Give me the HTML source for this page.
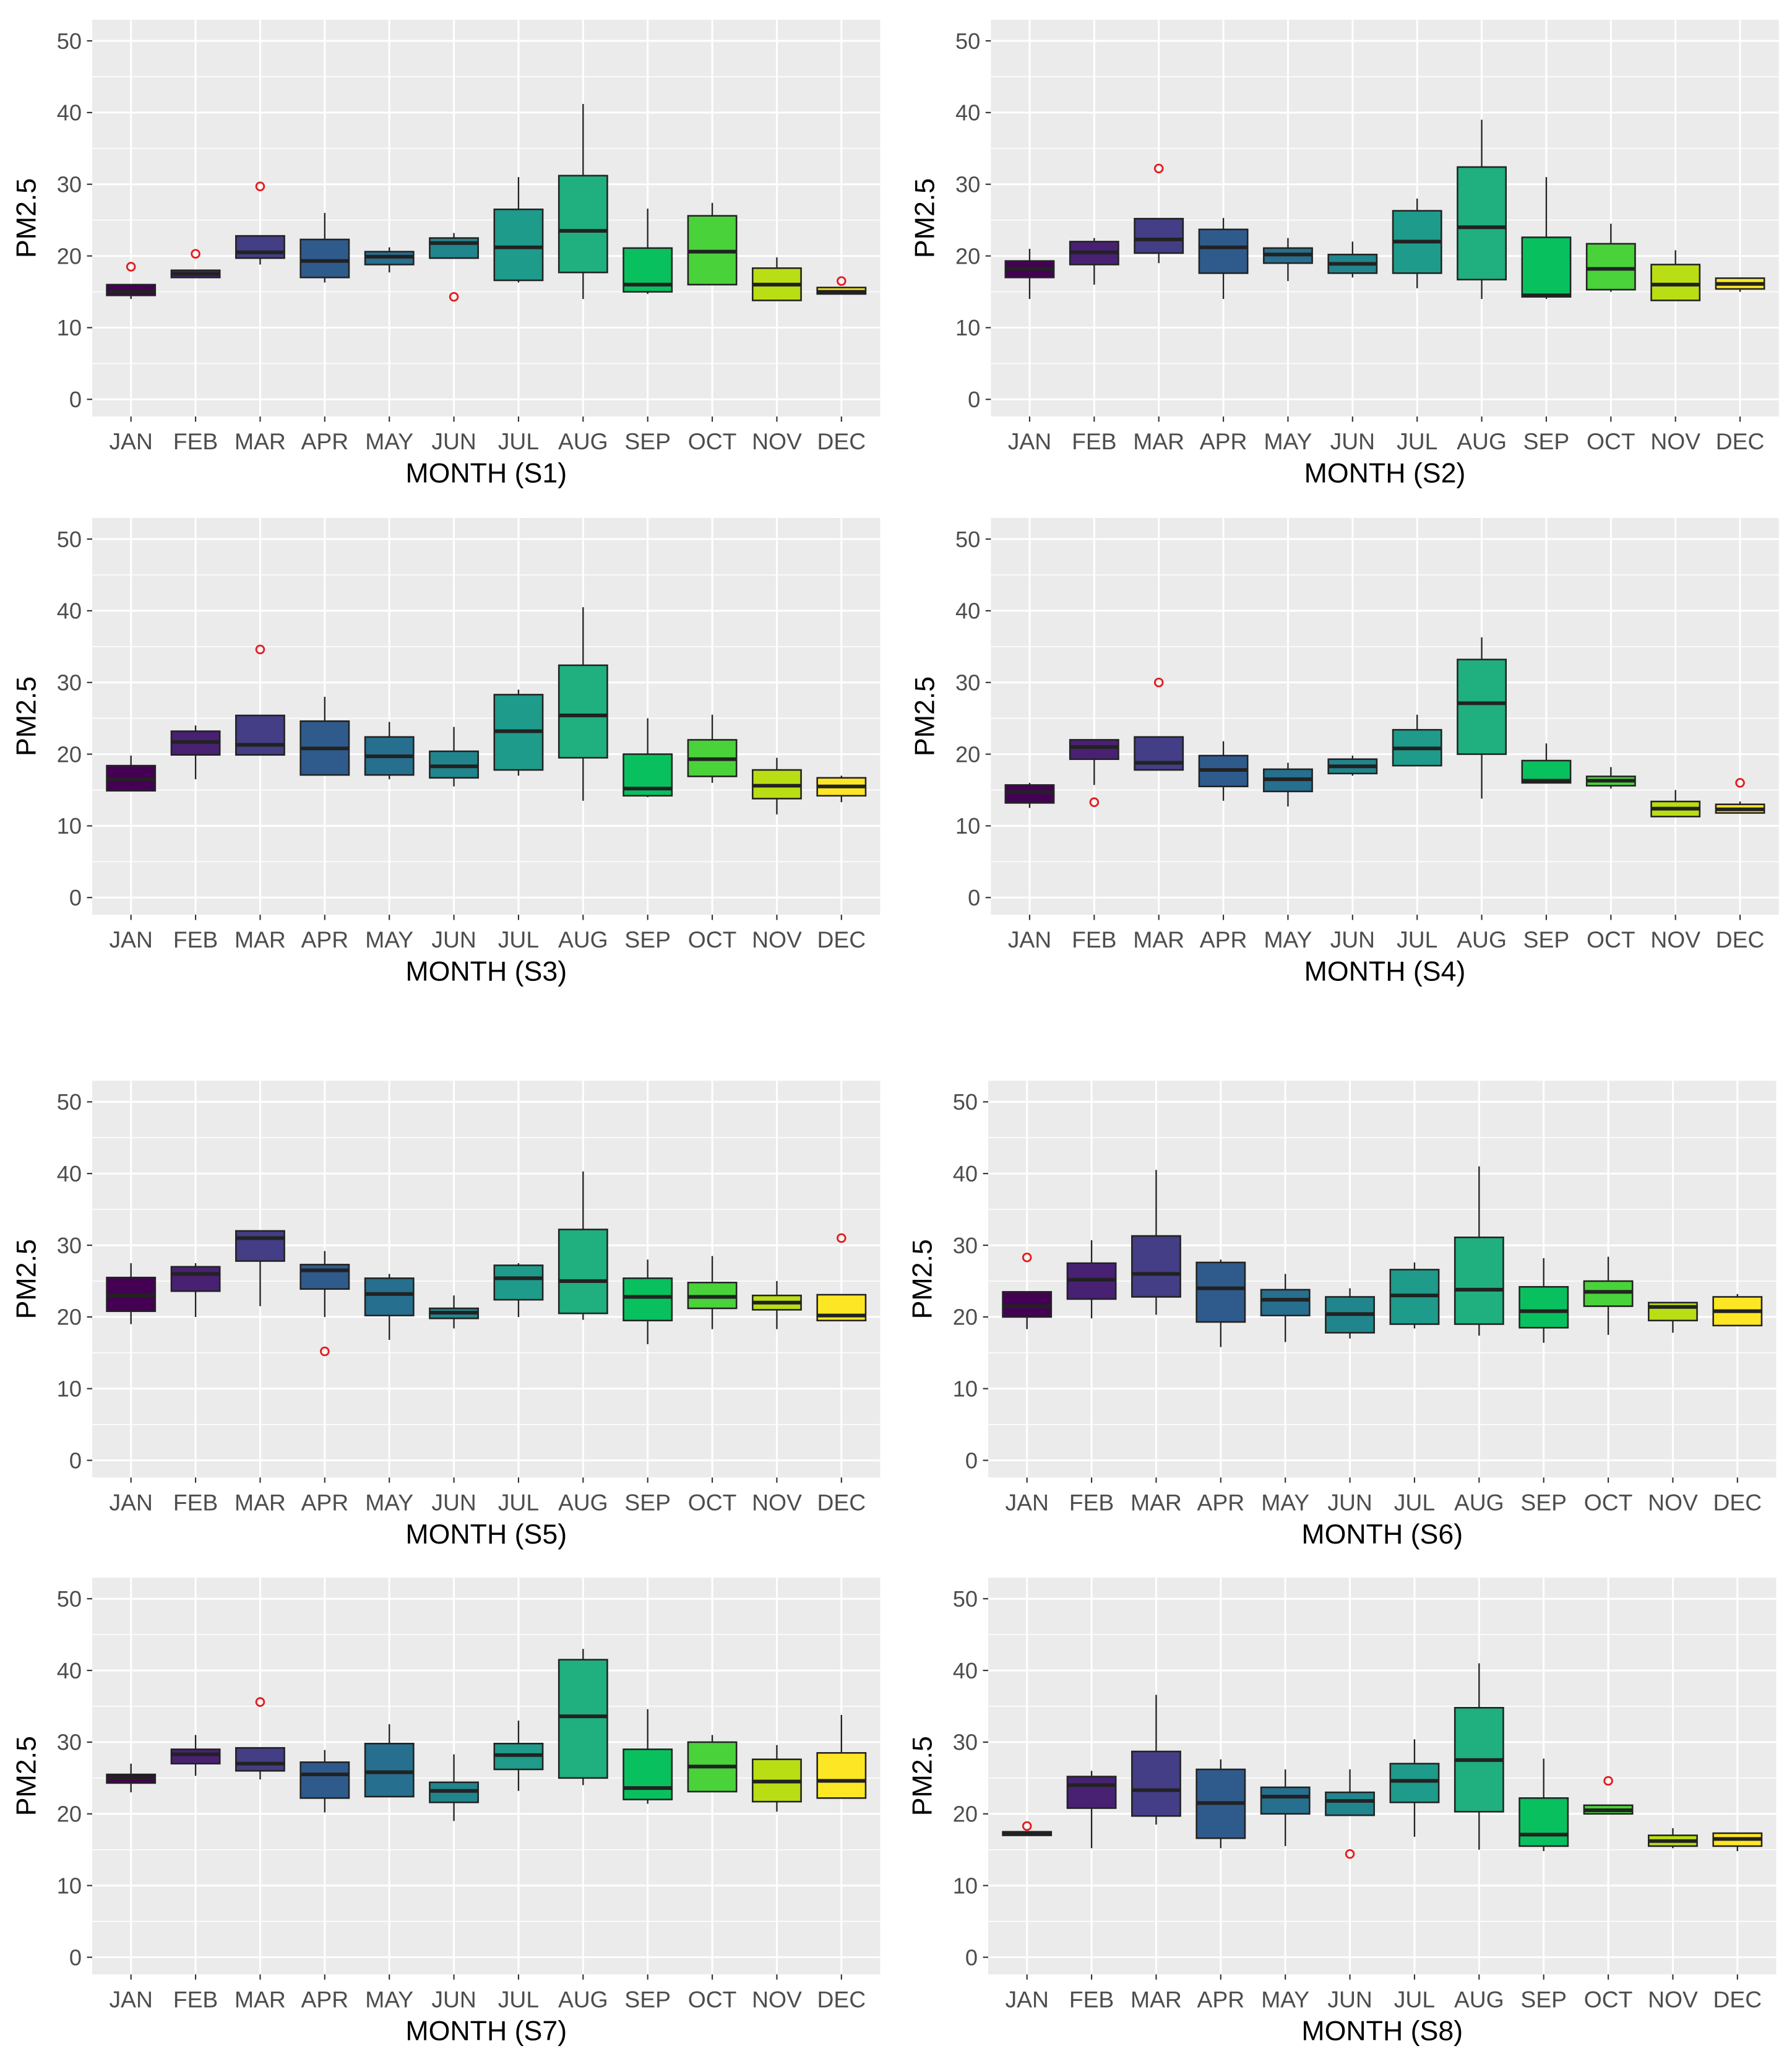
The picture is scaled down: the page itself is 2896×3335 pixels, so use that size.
<!DOCTYPE html>
<html><head><meta charset="utf-8"><style>
html,body{margin:0;padding:0;background:#fff}
svg{display:block}
text{font-family:"Liberation Sans",Arial,sans-serif}
</style></head><body>
<svg id="chart" width="2896" height="3335" viewBox="0 0 1360 1566" preserveAspectRatio="none" xmlns="http://www.w3.org/2000/svg"></svg>
<script>
const months = ["JAN","FEB","MAR","APR","MAY","JUN","JUL","AUG","SEP","OCT","NOV","DEC"];
const yTicks = [0,10,20,30,40,50];
const colors = ["#440154","#482173","#433E85","#2F5B8C","#266F8E","#21858D","#1E9B8A","#20AF7F","#09C05F","#4AD23A","#B9DE14","#FDE725"];
// each entry: [lowWhisker, q1, median, q3, highWhisker]
const s1 = [[14,14.5,15,16,16],[17,17,17.5,18,18],[18.8,19.7,20.5,22.8,22.8],[16.3,17,19.3,22.3,26],[17.7,18.8,19.9,20.6,21.2],[19.7,19.7,21.8,22.5,23.2],[16.3,16.6,21.2,26.5,31],[14,17.7,23.5,31.2,41.2],[14.7,15,16,21.1,26.6],[16,16,20.6,25.6,27.4],[13.8,13.8,16,18.3,19.8],[14.7,14.7,15,15.6,15.6]];
const s1Out = [[0,18.5],[1,20.3],[2,29.7],[5,14.3],[11,16.5]];
const s2 = [[14,17,18.2,19.3,21],[16,18.8,20.5,22,22.5],[19,20.4,22.3,25.2,25.2],[14,17.6,21.2,23.7,25.3],[16.5,19,20.2,21.1,22.5],[17,17.6,18.9,20.2,22],[15.5,17.6,22,26.3,28],[14,16.7,24,32.4,39],[14,14.3,14.5,22.6,31],[15,15.3,18.2,21.7,24.5],[13.8,13.8,16,18.8,20.8],[15,15.4,16.1,16.9,17]];
const s2Out = [[2,32.2]];
const s3 = [[14.9,14.9,16.5,18.4,19.8],[16.5,19.9,21.7,23.2,24],[19.9,19.9,21.3,25.4,25.4],[17,17.1,20.8,24.6,28],[16.5,17.1,19.7,22.4,24.5],[15.5,16.7,18.3,20.4,23.8],[17,17.8,23.2,28.3,29],[13.5,19.5,25.4,32.4,40.5],[14,14.2,15.2,20,25],[16,16.9,19.3,22,25.5],[11.6,13.8,15.6,17.8,19.5],[13.3,14.2,15.5,16.7,17]];
const s3Out = [[2,34.6]];
const s4 = [[12.5,13.2,14.7,15.7,16],[15.7,19.3,21,22,22],[17.8,17.8,18.8,22.4,22.4],[13.5,15.5,17.8,19.8,21.8],[12.7,14.8,16.5,17.9,18.8],[17,17.3,18.3,19.3,19.8],[18.4,18.4,20.8,23.4,25.5],[13.8,20,27.1,33.2,36.3],[16,16,16.3,19.1,21.5],[15.2,15.6,16.3,16.9,18.2],[11.3,11.3,12.4,13.4,15],[11.8,11.8,12.3,13,13.4]];
const s4Out = [[1,13.3],[2,30],[11,16]];
const s5 = [[19,20.8,23,25.5,27.5],[20,23.6,26,27,27.5],[21.5,27.8,31,32,32],[20,23.9,26.5,27.3,29.2],[16.8,20.2,23.2,25.4,26],[18.4,19.8,20.6,21.2,23],[20,22.4,25.4,27.2,27.5],[19.6,20.5,25,32.2,40.3],[16.2,19.5,22.8,25.4,28],[18.3,21.2,22.8,24.8,28.5],[18.3,21,22,23,25],[19.5,19.5,20.2,23.1,23.1]];
const s5Out = [[3,15.2],[11,31]];
const s6 = [[18.3,20,21.5,23.5,23.5],[19.8,22.5,25.2,27.5,30.7],[20.3,22.8,26,31.3,40.5],[15.8,19.3,24,27.6,28],[16.5,20.2,22.4,23.8,26],[17,17.8,20.4,22.8,24],[18.4,19,23,26.6,27.6],[17.4,19,23.8,31.1,41],[16.4,18.5,20.8,24.2,28.2],[17.5,21.5,23.5,25,28.4],[17.8,19.5,21.4,22,22],[18.8,18.8,20.8,22.8,23.2]];
const s6Out = [[0,28.3]];
const s7 = [[23,24.3,25,25.5,27],[25.3,27,28.3,29,31],[24.8,26,27,29.2,29.2],[20.2,22.2,25.5,27.2,28.9],[22.4,22.4,25.8,29.8,32.5],[19,21.6,23.2,24.4,28.3],[23.2,26.2,28.2,29.8,33],[24,25,33.6,41.5,43],[21.4,22,23.6,29,34.6],[23.1,23.1,26.6,30,31],[20.3,21.7,24.5,27.6,29.6],[22.2,22.2,24.6,28.5,33.8]];
const s7Out = [[2,35.6]];
const s8 = [[17,17,17.2,17.5,17.5],[15.2,20.8,24,25.2,26],[18.5,19.7,23.3,28.7,36.6],[15.2,16.6,21.5,26.2,27.6],[15.5,20,22.4,23.7,26.2],[19.8,19.8,21.8,23,26.2],[16.8,21.6,24.6,27,30.4],[15,20.3,27.5,34.8,41],[14.8,15.5,17.1,22.2,27.7],[20,20,20.5,21.2,21.2],[15.2,15.5,16.2,17,18],[14.8,15.5,16.5,17.3,17.3]];
const s8Out = [[0,18.3],[5,14.4],[9,24.6]];

const panels = [
  {name:"S1", data:s1, out:s1Out, x0:70, y0:15},
  {name:"S2", data:s2, out:s2Out, x0:752, y0:15},
  {name:"S3", data:s3, out:s3Out, x0:70, y0:393},
  {name:"S4", data:s4, out:s4Out, x0:752, y0:393},
  {name:"S5", data:s5, out:s5Out, x0:70, y0:820},
  {name:"S6", data:s6, out:s6Out, x0:750, y0:820},
  {name:"S7", data:s7, out:s7Out, x0:70, y0:1197},
  {name:"S8", data:s8, out:s8Out, x0:750, y0:1197}
];
const NS = "http://www.w3.org/2000/svg";
const svg = document.getElementById("chart");
const W = 598, H = 301;
function mk(tag, attrs, parent){
  const e = document.createElementNS(NS, tag);
  for (const k in attrs) e.setAttribute(k, attrs[k]);
  parent.appendChild(e);
  return e;
}
panels.forEach(p => {
  const g = mk("g", {}, svg);
  
  
  const step = W / 12.2;
  const xs = i => p.x0 + step * (0.6 + i);
  const yBot = p.y0 + H - 13, yTop = p.y0 + 16;
  const ys = v => yBot - (yBot - yTop) * v / 50;
  const bg = mk("rect", {x:p.x0, y:p.y0, width:W, height:H, fill:"#EBEBEB"}, g);
  
  
  for (let v = 5; v < 55; v += 10) {
    mk("line", {x1:p.x0, x2:p.x0+W, y1:ys(v), y2:ys(v), stroke:"#fff", "stroke-width":0.7}, g);
  }
  yTicks.forEach(v => {
    const l = mk("line", {x1:p.x0, x2:p.x0+W, y1:ys(v), y2:ys(v), stroke:"#fff", "stroke-width":1.4}, g);
    
    
    mk("line", {x1:p.x0-4, x2:p.x0, y1:ys(v), y2:ys(v), stroke:"#333", "stroke-width":1}, g);
    const t = mk("text", {x:p.x0-8, y:ys(v)+6, "text-anchor":"end", "font-size":17, fill:"#4D4D4D"}, g);
    t.textContent = v;
    
    
  });
  months.forEach((m, i) => {
    mk("line", {x1:xs(i), x2:xs(i), y1:p.y0, y2:p.y0+H, stroke:"#fff", "stroke-width":1.4}, g);
    mk("line", {x1:xs(i), x2:xs(i), y1:p.y0+H, y2:p.y0+H+4, stroke:"#333", "stroke-width":1}, g);
    const t = mk("text", {x:xs(i), y:p.y0+H+25, "text-anchor":"middle", "font-size":17.5, fill:"#4D4D4D"}, g);
    t.textContent = m;
    
    
  });
  const bw = step * 0.75;
  p.data.forEach((d, i) => {
    const bx = mk("g", {}, g);
    
    
    const cx = xs(i);
    mk("line", {x1:cx, x2:cx, y1:ys(d[0]), y2:ys(d[1]), stroke:"#222", "stroke-width":1.1}, bx);
    mk("line", {x1:cx, x2:cx, y1:ys(d[3]), y2:ys(d[4]), stroke:"#222", "stroke-width":1.1}, bx);
    mk("rect", {x:cx-bw/2, y:ys(d[3]), width:bw, height:Math.max(ys(d[1])-ys(d[3]),0.5), fill:colors[i], stroke:"#222", "stroke-width":1.2}, bx);
    mk("line", {x1:cx-bw/2, x2:cx+bw/2, y1:ys(d[2]), y2:ys(d[2]), stroke:"#222", "stroke-width":2.8}, bx);
  });
  p.out.forEach(o => {
    const c = mk("circle", {cx:xs(o[0]), cy:ys(o[1]), r:3, fill:"none", stroke:"#E41A1C", "stroke-width":1.3}, g);
    
    
  });
  const xt = mk("text", {x:p.x0+W/2, y:p.y0+H+50, "text-anchor":"middle", "font-size":21, fill:"#000"}, g);
  xt.textContent = "MONTH (" + p.name + ")";
  
  
  const lx = p.x0 - 43, ly = p.y0 + H/2;
  const yt = mk("text", {x:lx, y:ly, "text-anchor":"middle", "font-size":21, fill:"#000", transform:"rotate(-90 "+lx+" "+ly+")"}, g);
  yt.textContent = "PM2.5";
  
  
});
</script>
</body></html>
